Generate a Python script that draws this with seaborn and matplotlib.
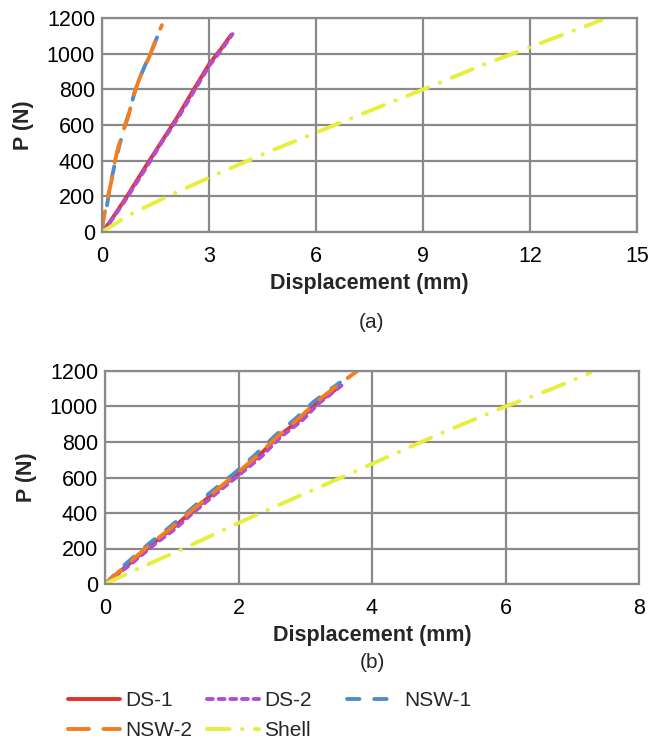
import numpy as np
import pandas as pd
import matplotlib
matplotlib.use("Agg")
import matplotlib.pyplot as plt
import seaborn as sns

# ---- (a) load-displacement curves ----
ds1_a_x = [0, 0.2, 0.7, 1.2, 1.65, 2.1, 2.5, 3.0, 3.35, 3.62]
ds1_a_p = [0, 50, 200, 360, 500, 640, 775, 940, 1030, 1105]
ds2_a_x = [0, 0.22, 0.72, 1.22, 1.66, 2.12, 2.52, 3.02, 3.38, 3.66]
ds2_a_p = [0, 52, 198, 355, 498, 636, 770, 936, 1030, 1110]
nsw1_a_x = [0, 0.02, 0.06, 0.14, 0.26, 0.34, 0.48, 0.62, 0.76, 0.91, 1.06, 1.22, 1.33, 1.44, 1.56]
nsw1_a_p = [0, 50, 100, 150, 290, 365, 480, 580, 670, 780, 865, 940, 985, 1040, 1100]
nsw2_a_x = [0, 0.01, 0.08, 0.18, 0.28, 0.33, 0.45, 0.61, 0.75, 0.9, 1.05, 1.2, 1.31, 1.42, 1.55, 1.68]
nsw2_a_p = [0, 40, 110, 210, 300, 370, 470, 575, 660, 775, 860, 930, 975, 1030, 1100, 1160]
shell_a_x = [0, 0.75, 1.82, 3.22, 4.71, 6.4, 8.07, 9.2, 10.6, 12.09, 14.01]
shell_a_p = [0, 94, 198, 325, 453, 590, 725, 815, 931, 1043, 1189]

# ---- (b) load-displacement curves ----
ds1_b_x = [0, 0.35, 0.71, 1.0, 1.26, 1.6, 1.985, 2.3, 2.585, 2.9, 3.16, 3.4, 3.5]
ds1_b_p = [0, 110, 226, 310, 395, 505, 621, 720, 828, 920, 1017, 1080, 1110]
ds2_b_x = [0, 0.38, 0.75, 1.05, 1.3, 1.65, 2.03, 2.35, 2.63, 2.95, 3.2, 3.45, 3.58]
ds2_b_p = [0, 110, 226, 310, 395, 505, 621, 720, 828, 920, 1017, 1090, 1130]
nsw1_b_x = [0, 0.3, 0.66, 0.95, 1.22, 1.56, 1.95, 2.25, 2.55, 2.85, 3.12, 3.35, 3.52]
nsw1_b_p = [0, 110, 228, 315, 400, 510, 628, 728, 836, 930, 1025, 1090, 1135]
nsw2_b_x = [0, 0.33, 0.69, 0.98, 1.25, 1.6, 1.98, 2.28, 2.58, 2.88, 3.15, 3.45, 3.78, 3.9]
nsw2_b_p = [0, 110, 228, 312, 398, 508, 625, 722, 830, 925, 1020, 1110, 1200, 1235]
shell_b_x = [0, 0.41, 1.185, 1.97, 2.76, 3.535, 4.31, 5.1, 6.0, 6.7, 7.27]
shell_b_p = [0, 72, 201, 339, 471, 599, 729, 860, 1000, 1100, 1190]

series = ["DS-1", "DS-2", "NSW-1", "NSW-2", "Shell"]
colors = ["#e2322a", "#b04fd2", "#4f8cc9", "#f07f22", "#e8ee3c"]
dash_map = {
    "DS-1": "",
    "DS-2": (1.5, 1.5),
    "NSW-1": (3.2, 3.8),
    "NSW-2": (5.4, 3.7),
    "Shell": (5.8, 3.2, 0.1, 3.2),
}

y_ticks = [0, 200, 400, 600, 800, 1000, 1200]


def long_frame(xs, ps):
    parts = []
    for name, x, p in zip(series, xs, ps):
        parts.append(pd.DataFrame({"Displacement (mm)": x, "P (N)": p, "Specimen": name}))
    return pd.concat(parts, ignore_index=True)


df_a = long_frame([ds1_a_x, ds2_a_x, nsw1_a_x, nsw2_a_x, shell_a_x],
                  [ds1_a_p, ds2_a_p, nsw1_a_p, nsw2_a_p, shell_a_p])
df_b = long_frame([ds1_b_x, ds2_b_x, nsw1_b_x, nsw2_b_x, shell_b_x],
                  [ds1_b_p, ds2_b_p, nsw1_b_p, nsw2_b_p, shell_b_p])

grid_col = "#8a8a8a"
sns.set_style("whitegrid", {"grid.color": grid_col, "axes.edgecolor": grid_col})
plt.rcParams["font.family"] = ["Liberation Sans", "DejaVu Sans"]
plt.rcParams["lines.solid_capstyle"] = "round"
plt.rcParams["lines.dash_capstyle"] = "round"

fig = plt.figure(figsize=(6.65, 7.45), dpi=100)
W, H = 665, 745
ax_a = fig.add_axes([102 / W, 1 - 232 / H, 535 / W, 214 / H])
ax_b = fig.add_axes([105 / W, 1 - 584 / H, 534 / W, 213 / H])

palette = dict(zip(series, colors))
FS = 15.5

for ax, df, xticks, xlim in [
    (ax_a, df_a, [0, 3, 6, 9, 12, 15], (0, 15)),
    (ax_b, df_b, [0, 2, 4, 6, 8], (0, 8)),
]:
    sns.lineplot(data=df, x="Displacement (mm)", y="P (N)", hue="Specimen",
                 style="Specimen", palette=palette, dashes=dash_map,
                 hue_order=series, style_order=series,
                 estimator=None, sort=False, units="Specimen",
                 linewidth=2.8, legend=False, ax=ax)
    ax.set_xlim(*xlim)
    ax.set_ylim(0, 1200)
    ax.set_xticks(xticks)
    ax.set_yticks(y_ticks)
    ax.grid(True, color=grid_col, linewidth=1.6)
    ax.set_axisbelow(True)
    for sp in ax.spines.values():
        sp.set_color(grid_col)
        sp.set_linewidth(1.6)
    ax.tick_params(axis="both", length=0, labelsize=FS, colors="black")
    ax.tick_params(axis="x", pad=10)
    ax.tick_params(axis="y", pad=5)
    ax.set_xlabel("Displacement (mm)", fontsize=FS, fontweight="bold", labelpad=4.5)
    ax.set_ylabel("P (N)", fontsize=FS, fontweight="bold", labelpad=9.5)

fig.text(372 / W, 1 - 322 / H, "(a)", ha="center", va="center", fontsize=FS - 0.5)
fig.text(372 / W, 1 - 662 / H, "(b)", ha="center", va="center", fontsize=FS - 0.5)

# legend: three columns placed across the bottom
handles = {name: line for name, line in zip(series, ax_a.get_lines())}
columns = [(["DS-1", "NSW-2"], 68), (["DS-2", "Shell"], 207), (["NSW-1"], 347)]
for names, x0 in columns:
    fig.legend([handles[n] for n in names], names, loc="upper left",
               bbox_to_anchor=(x0 / W, 1 - 691 / H), frameon=False,
               fontsize=15, handlelength=2.5, handletextpad=0.25,
               labelspacing=0.55, borderpad=0, borderaxespad=0)

fig.savefig("out.png", dpi=100)
